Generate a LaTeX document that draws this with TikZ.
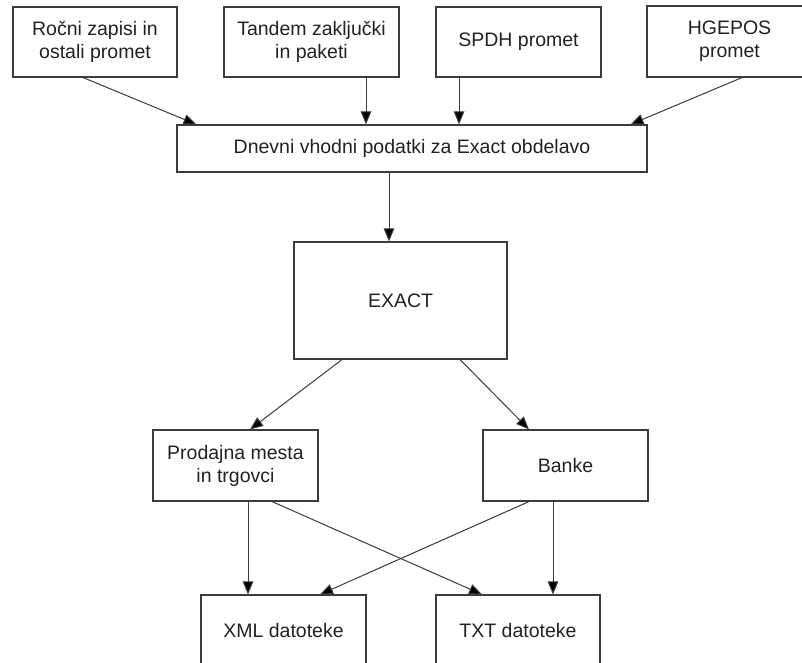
\documentclass[tikz,border=0pt]{standalone}
\usepackage{fontspec}
\setmainfont{Liberation Sans}
\usetikzlibrary{arrows.meta,calc}
\definecolor{linec}{RGB}{60,60,60}
\definecolor{textc}{RGB}{34,34,34}
\begin{document}
\begin{tikzpicture}[x=1pt,y=-1pt,
  box/.style={draw=linec,line width=1.1pt,rectangle,inner sep=0pt,align=center,
    text=textc,font=\fontsize{19.5}{23}\selectfont},
  arr/.style={draw=linec,line width=1pt,-{Triangle[length=13pt,width=10.5pt,fill=black]}}]
\useasboundingbox (0,0) rectangle (802,662);
\clip (0,0) rectangle (802,662);
\fill[white] (0,0) rectangle (802,662);
% top row
\node[box,minimum width=164pt,minimum height=70pt] (b1) at (95,42) {Ročni zapisi in\\ostali promet};
\node[box,minimum width=175pt,minimum height=70pt] (b2) at (311.5,42) {Tandem zaključki\\in paketi};
\node[box,minimum width=165pt,minimum height=70pt] (b3) at (518.5,42) {SPDH promet};
\node[box,minimum width=165pt,minimum height=71pt] (b4) at (729.5,41.5) {HGEPOS\\promet};
% middle
\node[box,minimum width=470pt,minimum height=47pt] (wide) at (412,148.5) {Dnevni vhodni podatki za Exact obdelavo};
\node[box,minimum width=213pt,minimum height=117pt] (exact) at (400.5,300.5) {EXACT};
\node[box,minimum width=165pt,minimum height=71pt] (prod) at (235.5,465.5) {Prodajna mesta\\in trgovci};
\node[box,minimum width=165pt,minimum height=71pt] (banke) at (565.5,465.5) {Banke};
% bottom
\node[box,minimum width=165pt,minimum height=72pt] (xml) at (283.5,631) {XML datoteke};
\node[box,minimum width=164pt,minimum height=72pt] (txt) at (518,631) {TXT datoteke};
% connectors
\draw[arr] ([xshift=-12pt]b1.south) -- ([xshift=20pt]wide.north west);
\draw[arr] ([xshift=54.5pt]b2.south) -- ([xshift=54.5pt]b2.south |- wide.north);
\draw[arr] ([xshift=-59.5pt]b3.south) -- ([xshift=-59.5pt]b3.south |- wide.north);
\draw[arr] ([xshift=12.5pt]b4.south) -- ([xshift=-17pt]wide.north east);
\draw[arr] ([xshift=-23pt]wide.south) -- ([xshift=-23pt]wide.south |- exact.north);
\draw[arr] ([xshift=-58.5pt]exact.south) -- ([xshift=14.5pt]prod.north);
\draw[arr] ([xshift=59.5pt]exact.south) -- ([xshift=-36.5pt]banke.north);
\draw[arr] ([xshift=12.5pt]prod.south) -- ([xshift=12.5pt]prod.south |- xml.north);
\draw[arr] ([xshift=36.5pt]prod.south) -- ([xshift=-36pt]txt.north);
\draw[arr] ([xshift=-36.5pt]banke.south) -- ([xshift=36.5pt]xml.north);
\draw[arr] ([xshift=-12.5pt]banke.south) -- ([xshift=-12.5pt]banke.south |- txt.north);
\end{tikzpicture}
\end{document}
